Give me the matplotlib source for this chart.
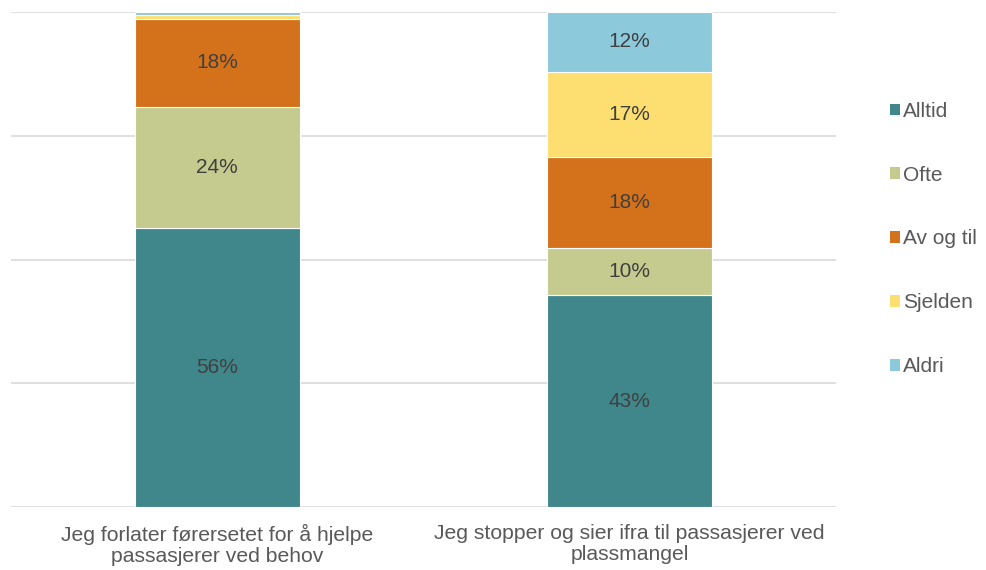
import numpy as np
import matplotlib.pyplot as plt
from matplotlib.patches import Patch

plt.rcParams['font.family'] = ['Liberation Sans', 'DejaVu Sans']

# Data
kategorier = ['Jeg forlater førersetet for å hjelpe\npassasjerer ved behov',
              'Jeg stopper og sier ifra til passasjerer ved\nplassmangel']
serier = ['Alltid', 'Ofte', 'Av og til', 'Sjelden', 'Aldri']
alltid = [56.4, 42.8]
ofte = [24.4, 9.5]
av_og_til = [17.8, 18.4]
sjelden = [0.7, 17.2]
aldri = [0.7, 12.1]
farger = ['#3F878B', '#C5CB8E', '#D4721C', '#FDDF71', '#8BC9DB']

verdier = [alltid, ofte, av_og_til, sjelden, aldri]

fig = plt.figure(figsize=(9.86, 5.7), dpi=100)
ax = fig.add_axes([11 / 986, 1 - 507 / 570, 825 / 986, 495 / 570])

x = np.arange(len(kategorier))
bunn = np.zeros(len(kategorier))
for navn, v, f in zip(serier, verdier, farger):
    v = np.array(v)
    ax.bar(x, v, width=0.4, bottom=bunn, color=f, edgecolor='white',
           linewidth=0.8, zorder=3, label=navn)
    for xi, vi, bi in zip(x, v, bunn):
        if vi >= 5:
            ax.text(xi, bi + vi / 2, f'{round(vi):.0f}%', ha='center',
                    va='center', fontsize=15, color='#404040', zorder=4)
    bunn += v

ax.set_xlim(-0.5, 1.5)
ax.set_ylim(0, 100)
ax.set_yticks([0, 25, 50, 75, 100])
ax.yaxis.grid(True, color='#D9D9D9', linewidth=1.2)
ax.set_axisbelow(True)
ax.tick_params(axis='y', left=False, labelleft=False)
ax.tick_params(axis='x', bottom=False, labelsize=15.2, labelcolor='#595959', pad=9)
ax.set_xticks(x)
ax.set_xticklabels(kategorier, linespacing=1.12)
for s in ['top', 'right', 'left', 'bottom']:
    ax.spines[s].set_visible(False)

handles = [Patch(facecolor=f, edgecolor='none') for f in farger]
leg = fig.legend(handles, serier, loc='center left', bbox_to_anchor=(871 / 986, 1 - 239 / 570),
                 frameon=False, fontsize=15, labelspacing=2.15,
                 handlelength=0.5, handleheight=0.5, handletextpad=0.15,
                 labelcolor='#595959')

fig.savefig('out.png', dpi=100)
